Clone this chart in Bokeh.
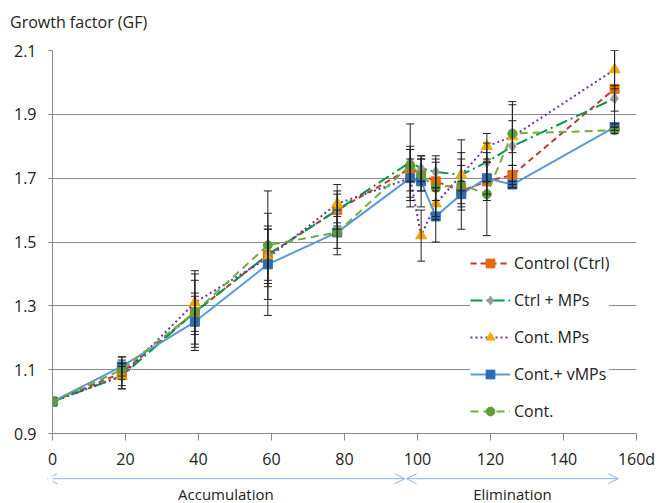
from bokeh.plotting import figure
from bokeh.layouts import column
from bokeh.models import (Range1d, FixedTicker, Whisker, TeeHead, ColumnDataSource, Legend,
                          LegendItem, Arrow, OpenHead, Label, Div)
from bokeh.embed import file_html
from bokeh.resources import INLINE

days = [0, 19, 39, 59, 78, 98, 101, 105, 112, 119, 126, 154]

ctrl = [1.00, 1.09, 1.28, 1.46, 1.60, 1.73, 1.71, 1.69, 1.66, 1.69, 1.71, 1.98]
ctrl_err = [0, 0.05, 0.12, 0.08, 0.06, 0.07, 0.05, 0.06, 0.12, 0.06, 0.03, 0.12]

ctrl_mps = [1.00, 1.08, 1.28, 1.46, 1.60, 1.75, 1.73, 1.72, 1.71, 1.75, 1.80, 1.95]
ctrl_mps_err = [0, 0.03, 0.10, 0.09, 0.05, 0.12, 0.04, 0.05, 0.05, 0.06, 0.13, 0.04]

cont_mps = [1.00, 1.08, 1.31, 1.45, 1.62, 1.70, 1.52, 1.62, 1.71, 1.80, 1.83, 2.04]
cont_mps_err = [0, 0.04, 0.10, 0.09, 0.06, 0.09, 0.08, 0.05, 0.11, 0.04, 0.05, 0.06]

cont_vmps = [1.00, 1.11, 1.25, 1.43, 1.53, 1.70, 1.69, 1.58, 1.65, 1.70, 1.68, 1.86]
cont_vmps_err = [0, 0.03, 0.08, 0.16, 0.07, 0.06, 0.08, 0.08, 0.04, 0.05, 0.01, 0.01]

cont = [1.00, 1.10, 1.28, 1.49, 1.53, 1.74, 1.71, 1.67, 1.68, 1.65, 1.84, 1.85]
cont_err = [0, 0.03, 0.06, 0.17, 0.05, 0.05, 0.05, 0.09, 0.06, 0.13, 0.10, 0.01]

y_ticks = [0.9, 1.1, 1.3, 1.5, 1.7, 1.9, 2.1]
x_ticks = [0, 20, 40, 60, 80, 100, 120, 140, 160]

phases = ["Accumulation", "Elimination"]
phase_start = [-1.5, 97]
phase_end = [96.5, 155]

y_title = "Growth factor (GF)"

FONT = "Open Sans"

# title strip
head = Div(text=y_title, width=666, height=40,
           styles={"font-family": FONT, "font-size": "16px", "color": "#222222",
                   "padding-left": "10px", "padding-top": "11px", "box-sizing": "border-box",
                   "line-height": "22px", "margin": "0"})

p = figure(width=666, height=432, output_backend="svg", toolbar_location=None,
           x_range=Range1d(0, 160), y_range=Range1d(0.9, 2.1),
           min_border_left=52, min_border_right=30, min_border_top=10, min_border_bottom=39)
p.outline_line_color = None
p.background_fill_color = "white"

p.xgrid.visible = False
p.ygrid.ticker = FixedTicker(ticks=y_ticks)
p.ygrid.grid_line_color = "#8a8a8a"
p.ygrid.grid_line_width = 1

p.yaxis.ticker = FixedTicker(ticks=y_ticks)
p.yaxis.major_label_overrides = {t: f"{t:.1f}" for t in y_ticks}
p.xaxis.ticker = FixedTicker(ticks=x_ticks)
p.xaxis.major_label_overrides = {160: "160d"}
for ax in (p.xaxis[0], p.yaxis[0]):
    ax.axis_line_color = "#8a8a8a"
    ax.major_tick_line_color = "#8a8a8a"
    ax.minor_tick_line_color = None
    ax.major_tick_in = 0
    ax.major_label_text_font = FONT
    ax.major_label_text_font_size = "16px"
    ax.major_label_text_color = "#222222"
p.xaxis.major_tick_out = 7
p.xaxis.major_label_standoff = 7
p.yaxis.major_tick_out = 4
p.yaxis.major_label_standoff = 12

series = [
    ("Control (Ctrl)", ctrl, ctrl_err, "#C0392B", "6 4", "square", "#E36C09", 9),
    ("Ctrl + MPs", ctrl_mps, ctrl_mps_err, "#00994C", "12 4 2 4", "diamond", "#9A9A9A", 11),
    ("Cont. MPs", cont_mps, cont_mps_err, "#7030A0", "2 3", "triangle", "#F2A900", 11),
    ("Cont.+ vMPs", cont_vmps, cont_vmps_err, "#5B9BD5", "solid", "square", "#2E6DB4", 9),
    ("Cont.", cont, cont_err, "#70AD47", "8 5", "circle", "#5E9E3A", 9),
]

for name, vals, errs, lc, dash, marker, mc, ms in series:
    xs = [d for d, e in zip(days, errs) if e > 0]
    lo = [v - e for v, e in zip(vals, errs) if e > 0]
    hi = [v + e for v, e in zip(vals, errs) if e > 0]
    wsrc = ColumnDataSource(dict(x=xs, lower=lo, upper=hi))
    w = Whisker(base="x", lower="lower", upper="upper", source=wsrc, level="glyph",
                line_color="#222222", line_width=1,
                upper_head=TeeHead(size=8, line_color="#222222", line_width=1),
                lower_head=TeeHead(size=8, line_color="#222222", line_width=1))
    p.add_layout(w)

items = []
for name, vals, errs, lc, dash, marker, mc, ms in series:
    src = ColumnDataSource(dict(x=days, y=vals))
    ln = p.line("x", "y", source=src, line_color=lc, line_width=2, line_dash=dash)
    sc = p.scatter("x", "y", source=src, marker=marker, size=ms, fill_color=mc, line_color=mc)
    items.append(LegendItem(label=name, renderers=[ln, sc]))

legend = Legend(items=items, location=(418, 11), background_fill_color="white",
                background_fill_alpha=1.0, border_line_color=None,
                label_text_font=FONT, label_text_font_size="16px", label_text_color="#222222",
                glyph_width=40, glyph_height=22, spacing=15, label_standoff=4,
                padding=4, margin=0)
p.add_layout(legend)

# phase strip below the axis
p2 = figure(width=666, height=31, output_backend="svg", toolbar_location=None,
            x_range=p.x_range, y_range=Range1d(0, 1),
            min_border_left=52, min_border_right=30, min_border_top=0, min_border_bottom=0)
p2.axis.visible = False
p2.grid.visible = False
p2.outline_line_color = None

ac = "#8DB3E2"
for name, s, e in zip(phases, phase_start, phase_end):
    p2.add_layout(Arrow(x_start=s, y_start=0.8, x_end=e, y_end=0.8,
                        start=OpenHead(size=10, line_color=ac, line_width=1),
                        end=OpenHead(size=10, line_color=ac, line_width=1),
                        line_color=ac, line_width=1))
    p2.add_layout(Label(x=(s + e) / 2, y=0.3, text=name, text_align="center",
                        text_baseline="middle", text_font=FONT, text_font_size="15px",
                        text_color="#222222"))

layout = column(head, p, p2, spacing=0)
open("out.html", "w").write(file_html(layout, INLINE))
